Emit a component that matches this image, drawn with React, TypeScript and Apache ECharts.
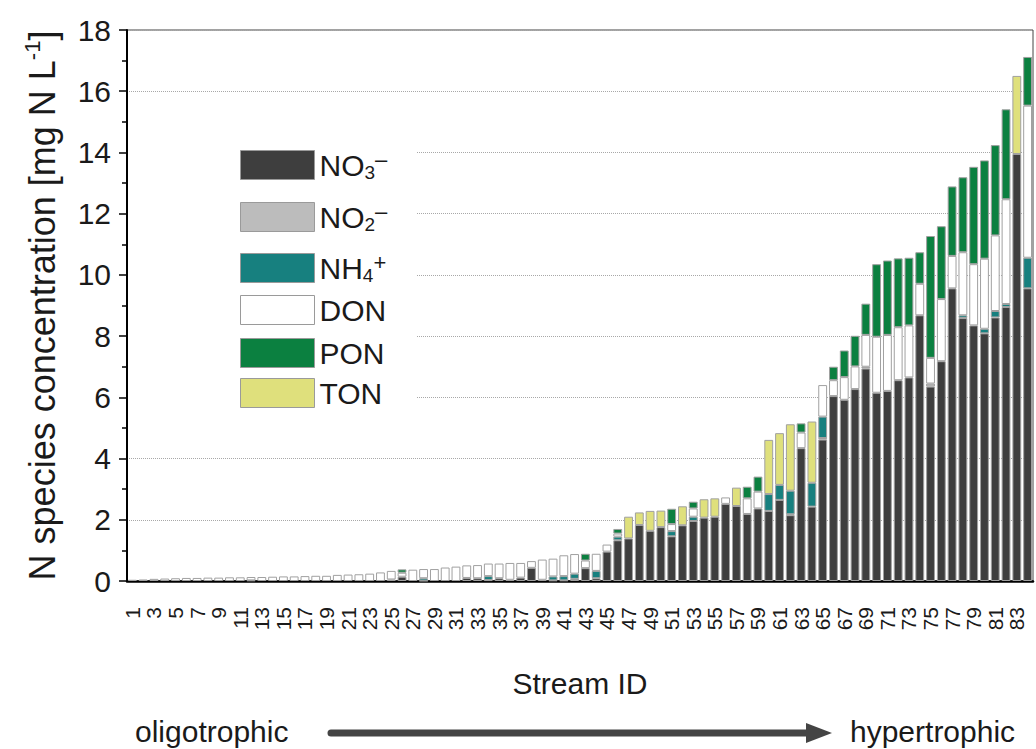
import React, { useEffect, useRef } from 'react';
import * as echarts from 'echarts';

const categories = [
  '1','2','3','4','5','6','7','8','9','10','11','12','13','14','15','16','17','18','19','20',
  '21','22','23','24','25','26','27','28','29','30','31','32','33','34','35','36','37','38','39','40',
  '41','42','43','44','45','46','47','48','49','50','51','52','53','54','55','56','57','58','59','60',
  '61','62','63','64','65','66','67','68','69','70','71','72','73','74','75','76','77','78','79','80',
  '81','82','83','84'
];

const no3 = [
  0,0,0,0,0,0,0,0,0,0,
  0,0.02,0,0,0,0,0,0,0,0,
  0,0,0,0,0.05,0.14,0,0.01,0,0,
  0,0.10,0.09,0.03,0.09,0.04,0.11,0.43,0.04,0.02,
  0.02,0.07,0.42,0.09,0.96,1.33,1.39,1.83,1.64,1.76,
  1.46,1.82,1.96,2.07,2.10,2.52,2.45,2.19,2.37,2.29,
  2.65,2.15,4.34,2.43,4.62,6.04,5.92,6.27,6.94,6.15,
  6.21,6.56,6.65,8.68,6.35,7.18,9.56,8.59,8.35,8.09,
  8.61,8.95,13.95,9.56
];

const no2 = [
  0,0,0,0,0,0,0,0,0,0,
  0,0,0,0,0,0,0,0,0,0,
  0,0,0,0,0,0,0,0,0,0,
  0,0,0,0,0,0,0,0,0,0,
  0,0,0,0,0,0,0,0,0,0,
  0,0,0,0,0,0,0,0,0,0,
  0,0.03,0,0,0.05,0,0,0,0.06,0,
  0,0,0,0,0.10,0,0,0,0,0,
  0,0,0,0
];

const nh4 = [
  0,0,0,0,0,0,0,0,0,0,
  0,0,0,0,0,0,0,0,0,0,
  0,0,0,0,0,0,0,0.08,0,0,
  0,0,0,0.13,0,0,0,0,0,0.13,
  0.14,0.17,0,0.24,0,0.12,0,0,0,0,
  0.17,0,0.14,0,0,0,0,0,0,0.55,
  0.49,0.77,0,0.78,0.70,0,0,0,0,0,
  0,0,0,0,0,0,0,0.09,0,0.15,
  0.21,0.10,0,1.00
];

const don = [
  0.04,0.05,0.07,0.08,0.09,0.10,0.10,0.11,0.11,0.12,
  0.12,0.11,0.13,0.14,0.15,0.15,0.16,0.17,0.17,0.20,
  0.21,0.22,0.24,0.28,0.28,0.13,0.37,0.30,0.39,0.44,
  0.47,0.41,0.43,0.41,0.48,0.55,0.48,0.22,0.66,0.58,
  0.68,0.64,0.25,0.56,0.23,0.10,0,0,0,0,
  0.23,0,0.27,0,0,0.21,0,0.51,0.55,0,
  0,0,0.51,0,1.03,0.52,0.74,0.74,1.04,1.83,
  1.83,1.73,1.70,1.03,0.84,2.03,1.06,2.06,2.00,2.29,
  2.47,3.42,0,4.97
];

const pon = [
  0,0,0,0,0,0,0,0,0,0,
  0,0,0,0,0,0,0,0,0,0,
  0,0,0,0,0,0.11,0,0,0,0,
  0,0,0,0,0,0,0,0,0,0,
  0,0,0.22,0,0,0.15,0,0,0,0,
  0.50,0,0.22,0,0,0,0,0.38,0.49,0,
  0,0,0.30,0,0,0.44,0.87,1.00,1.02,2.37,
  2.43,2.25,2.21,1.03,3.98,2.38,2.27,2.45,3.18,3.21,
  2.95,2.94,0,1.59
];

const ton = [
  0,0,0,0,0,0,0,0,0,0,
  0,0,0,0,0,0,0,0,0,0,
  0,0,0,0,0,0,0,0,0,0,
  0,0,0,0,0,0,0,0,0,0,
  0,0,0,0,0,0,0.71,0.41,0.65,0.54,
  0,0.62,0,0.60,0.60,0,0.60,0,0,1.77,
  1.69,2.17,0,2.00,0,0,0,0,0,0,
  0,0,0,0,0,0,0,0,0,0,
  0,0,2.55,0
];

const seriesNames = ['NO3-', 'NO2-', 'NH4+', 'DON', 'PON', 'TON'];
const seriesValues = [no3, no2, nh4, don, pon, ton];
const seriesColors = ['#3e3e3e', '#bcbcbc', '#17807f', '#ffffff', '#0b8040', '#dfe07c'];
const legendLabels = [
  '{a|NO}{b|3}{p|\u2013}',
  '{a|NO}{b|2}{p|\u2013}',
  '{a|NH}{b|4}{p|+}',
  '{a|DON}',
  '{a|PON}',
  '{a|TON}'
];
const legendCenters = [165, 217, 268, 312, 355, 395];

const FONT = "'Liberation Sans', Arial, Helvetica, sans-serif";

export default function App() {
  const ref = useRef<HTMLDivElement>(null);

  useEffect(() => {
    document.body.style.margin = '0';
    if (!ref.current) return;
    const chart = echarts.init(ref.current, null, { renderer: 'svg' });

    const rich = {
      a: { fontSize: 30, lineHeight: 34, color: '#1a1a1a', fontFamily: FONT },
      b: { fontSize: 19, lineHeight: 12, verticalAlign: 'bottom', color: '#1a1a1a', fontFamily: FONT },
      p: { fontSize: 22, lineHeight: 14, verticalAlign: 'top', color: '#1a1a1a', fontFamily: FONT },
    };

    const legends = seriesNames.map((name, i) => ({
      data: [name],
      left: 240,
      top: legendCenters[i] - 17,
      padding: 0,
      icon: 'rect',
      itemWidth: 74,
      itemHeight: 29,
      selectedMode: false,
      formatter: () => legendLabels[i],
      itemStyle: { borderColor: '#9a9a9a', borderWidth: 1 },
      textStyle: { fontFamily: FONT, fontSize: 30, rich },
    }));

    const series = seriesNames.map((name, i) => ({
      name,
      type: 'bar',
      stack: 'n',
      barCategoryGap: '18%',
      data: seriesValues[i].map((v) => (v === 0 ? '-' : v)),
      itemStyle: { color: seriesColors[i], borderColor: '#a0a0a0', borderWidth: 1 },
      emphasis: { disabled: true },
    }));

    chart.setOption({
      animation: false,
      backgroundColor: '#ffffff',
      textStyle: { fontFamily: FONT },
      grid: {
        left: 127, right: 3, top: 30, bottom: 168,
        show: true, borderColor: '#444', borderWidth: 1, containLabel: false,
      },
      legend: legends,
      xAxis: {
        type: 'category',
        data: categories,
        axisLine: { lineStyle: { color: '#000', width: 2.5 } },
        axisTick: { show: false },
        axisLabel: {
          rotate: 90, interval: 1, fontSize: 21, lineHeight: 14, margin: 26,
          color: '#1a1a1a', fontFamily: FONT,
        },
        name: 'Stream ID',
        nameLocation: 'middle',
        nameGap: 87,
        nameTextStyle: { fontSize: 30, color: '#1a1a1a', fontFamily: FONT },
      },
      yAxis: {
        type: 'value',
        min: 0, max: 18, interval: 2,
        axisLine: { show: true, lineStyle: { color: '#000', width: 2 } },
        axisTick: { show: true, inside: false, length: 8, lineStyle: { color: '#000', width: 1.5 } },
        minorTick: { show: true, splitNumber: 2, length: 5, lineStyle: { color: '#000', width: 1.5 } },
        splitLine: { show: true, lineStyle: { color: '#a8a8a8', type: 'dotted', width: 1 } },
        axisLabel: { fontSize: 30, margin: 16, color: '#1a1a1a', fontFamily: FONT },
        name: '{a|N species concentration [mg N L}{s|-1}{a|]}',
        nameLocation: 'middle',
        nameGap: 64,
        nameTextStyle: {
          fontFamily: FONT,
          rich: {
            a: { fontSize: 36, lineHeight: 42, color: '#1a1a1a', fontFamily: FONT },
            s: { fontSize: 22, lineHeight: 22, verticalAlign: 'top', color: '#1a1a1a', fontFamily: FONT },
          },
        },
      },
      graphic: [
        {
          type: 'rect', z: 1, silent: true,
          shape: { x: 129, y: 128, width: 288, height: 296 },
          style: { fill: '#ffffff' },
        },
        {
          type: 'text', left: 135, top: 716,
          style: { text: 'oligotrophic', fontSize: 30, fill: '#1a1a1a', fontFamily: FONT },
        },
        {
          type: 'text', left: 850, top: 716,
          style: { text: 'hypertrophic', fontSize: 30, fill: '#1a1a1a', fontFamily: FONT },
        },
        {
          type: 'line',
          shape: { x1: 331, y1: 733, x2: 812, y2: 733 },
          style: { stroke: '#444', lineWidth: 7, lineCap: 'round' },
        },
        {
          type: 'polygon',
          shape: { points: [[806, 723], [832, 733], [806, 743]] },
          style: { fill: '#444' },
        },
      ],
      series,
    });

    return () => chart.dispose();
  }, []);

  return <div ref={ref} style={{ width: 1036, height: 749 }} />;
}
